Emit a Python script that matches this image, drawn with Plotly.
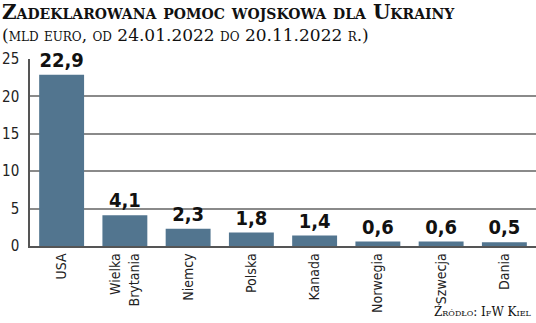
import plotly.graph_objects as go

categories = ["USA", "Wielka<br>Brytania", "Niemcy", "Polska", "Kanada", "Norwegia", "Szwecja", "Dania"]
values = [22.9, 4.1, 2.3, 1.8, 1.4, 0.6, 0.6, 0.5]
value_labels = ["22,9", "4,1", "2,3", "1,8", "1,4", "0,6", "0,6", "0,5"]
y_ticks = [0, 5, 10, 15, 20, 25]

W, H = 536, 323
L, R, T, B = 30, 0, 59, 77
SANS = "DejaVu Sans Condensed, Roboto, sans-serif"

fig = go.Figure()
fig.add_trace(go.Bar(
    x=categories, y=values, text=value_labels, textposition="outside",
    marker=dict(color="#52758f", line=dict(width=0)),
    textfont=dict(family=SANS, size=20, color="#111", weight="bold"),
    cliponaxis=False,
))

fig.update_layout(
    width=W, height=H,
    margin=dict(l=L, r=R, t=T, b=B, pad=0),
    paper_bgcolor="white", plot_bgcolor="white",
    bargap=0.29,
    showlegend=False,
    xaxis=dict(
        tickangle=-90, showline=True, linecolor="#555", linewidth=1.5,
        ticks="", showgrid=False,
        tickfont=dict(family=SANS, size=14, color="#222"),
    ),
    yaxis=dict(
        range=[0, 25], tickvals=y_ticks, ticktext=[str(v) for v in y_ticks],
        showline=True, linecolor="#555", linewidth=1.5,
        showgrid=True, gridcolor="#8a8a8a", gridwidth=1.5,
        zeroline=False, ticks="outside", ticklen=6, tickcolor="rgba(0,0,0,0)",
        tickfont=dict(family=SANS, size=15, color="#222"),
    ),
    annotations=[
        dict(text="<span style='font-size:20px'><b>Zadeklarowana pomoc wojskowa dla Ukrainy</b></span>"
                  "<br>(mld euro, od 24.01.2022 do 20.11.2022 r.)",
             x=0, xref="paper", xshift=-L, y=1, yref="paper", yshift=T + 2,
             xanchor="left", yanchor="top", align="left", showarrow=False,
             font=dict(family="DejaVu Serif", size=17, color="#111", variant="small-caps")),
        dict(text="Źródło: IfW Kiel",
             x=1, xref="paper", xshift=-2, y=0, yref="paper", yshift=-B + 2,
             xanchor="right", yanchor="bottom", showarrow=False,
             font=dict(family="DejaVu Serif", size=12, color="#111", variant="small-caps")),
    ],
)

fig.write_html("out.html")
